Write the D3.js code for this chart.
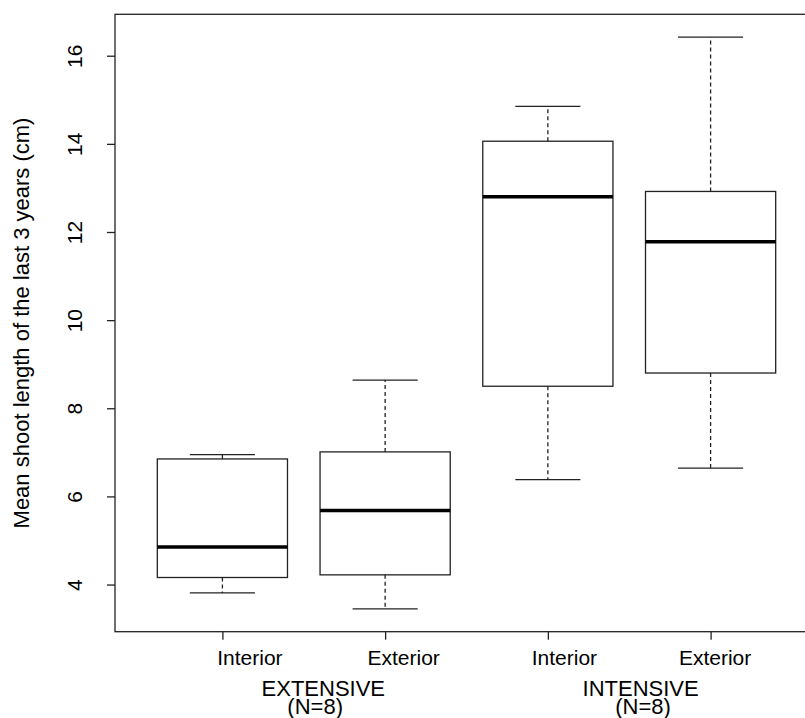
<!DOCTYPE html>
<html>
<head>
<meta charset="utf-8">
<script src="https://cdn.jsdelivr.net/npm/d3@7"></script>
<style>
  body { margin: 0; background: #fff; }
  text { font-family: "Liberation Sans", Arial, sans-serif; fill: #000; }
</style>
</head>
<body>
<div id="chart"></div>
<script>
// boxplot statistics
var groups = ['Interior', 'Exterior', 'Interior', 'Exterior'];
var lowWhisker = [3.81, 3.45, 6.38, 6.64];
var q1 = [4.16, 4.22, 8.50, 8.80];
var median = [4.85, 5.68, 12.80, 11.78];
var q3 = [6.85, 7.01, 14.06, 12.92];
var highWhisker = [6.95, 8.64, 14.85, 16.42];
var treatments = ['EXTENSIVE', 'INTENSIVE'];
var treatmentN = ['(N=8)', '(N=8)'];
var yTicks = [4, 6, 8, 10, 12, 14, 16];

var width = 805, height = 718;
var mLeft = 115, mTop = 14.3, mBottom = 631.7;
var mRight = 818; // R plot region runs past the image edge

var svg = d3.select('#chart').append('svg')
    .attr('width', width).attr('height', height);

var x = d3.scaleLinear().domain([0.34, 4.66]).range([mLeft, mRight]);
var y = d3.scaleLinear().domain([2.93, 16.94]).range([mBottom, mTop]);

var boxW = 0.8, capW = 0.4;
var ink = '#222';
var fs = '21px';

var data = groups.map(function(g, i) {
    return {pos: i + 1, lo: lowWhisker[i], q1: q1[i], med: median[i], q3: q3[i], hi: highWhisker[i]};
});

var box = svg.selectAll('g.box').data(data).enter().append('g').attr('class', 'box');

// whiskers
box.append('line')
    .attr('x1', function(d) { return x(d.pos); }).attr('x2', function(d) { return x(d.pos); })
    .attr('y1', function(d) { return y(d.q3); }).attr('y2', function(d) { return y(d.hi); })
    .attr('stroke', ink).attr('stroke-width', 1.3).attr('stroke-dasharray', '4,3');
box.append('line')
    .attr('x1', function(d) { return x(d.pos); }).attr('x2', function(d) { return x(d.pos); })
    .attr('y1', function(d) { return y(d.q1); }).attr('y2', function(d) { return y(d.lo); })
    .attr('stroke', ink).attr('stroke-width', 1.3).attr('stroke-dasharray', '4,3');

// caps
['hi', 'lo'].forEach(function(k) {
    box.append('line')
        .attr('x1', function(d) { return x(d.pos - capW / 2); })
        .attr('x2', function(d) { return x(d.pos + capW / 2); })
        .attr('y1', function(d) { return y(d[k]); }).attr('y2', function(d) { return y(d[k]); })
        .attr('stroke', ink).attr('stroke-width', 1.3);
});

// box
box.append('rect')
    .attr('x', function(d) { return x(d.pos - boxW / 2); })
    .attr('width', function(d) { return x(d.pos + boxW / 2) - x(d.pos - boxW / 2); })
    .attr('y', function(d) { return y(d.q3); })
    .attr('height', function(d) { return y(d.q1) - y(d.q3); })
    .attr('fill', 'none').attr('stroke', ink).attr('stroke-width', 1.3);

// median
box.append('line')
    .attr('x1', function(d) { return x(d.pos - boxW / 2); })
    .attr('x2', function(d) { return x(d.pos + boxW / 2); })
    .attr('y1', function(d) { return y(d.med); }).attr('y2', function(d) { return y(d.med); })
    .attr('stroke', '#000').attr('stroke-width', 3.5);

// frame
svg.append('rect')
    .attr('x', mLeft).attr('y', mTop)
    .attr('width', mRight - mLeft).attr('height', mBottom - mTop)
    .attr('fill', 'none').attr('stroke', ink).attr('stroke-width', 1.3);

// y axis
var yAxis = d3.axisLeft(y).tickValues(yTicks).tickSize(8).tickFormat(d3.format('d'));
var ya = svg.append('g').attr('transform', 'translate(' + mLeft + ',0)').call(yAxis);
ya.select('.domain').remove();
ya.selectAll('.tick line').attr('stroke', ink).attr('stroke-width', 1.3);
ya.selectAll('.tick text').remove();
ya.selectAll('.tick').append('text')
    .attr('transform', 'translate(-40,0) rotate(-90)')
    .attr('text-anchor', 'middle').attr('dy', '0.35em')
    .style('font-size', fs)
    .text(function(d) { return d; });

// x axis; the labels in the original sit to the right of their ticks
var labelShift = [27, 18, 16, 4];
var xAxis = d3.axisBottom(x).tickValues(data.map(function(d) { return d.pos; })).tickSize(8)
    .tickFormat(function(d) { return groups[d - 1]; });
var xa = svg.append('g').attr('transform', 'translate(0,' + mBottom + ')').call(xAxis);
xa.select('.domain').remove();
xa.selectAll('.tick line').attr('stroke', ink).attr('stroke-width', 1.3);
xa.selectAll('.tick text').attr('y', 0).attr('dy', 0)
    .attr('transform', function(d) { return 'translate(' + labelShift[d - 1] + ',33.6)'; })
    .style('font-size', fs).attr('font-family', null).attr('fill', '#000');

// treatment labels
var treatPos = [1.62, 3.57];
var treatPosN = [1.57, 3.585];
treatments.forEach(function(t, i) {
    svg.append('text').attr('x', x(treatPos[i])).attr('y', 696)
        .attr('text-anchor', 'middle').style('font-size', '22px').text(t);
    svg.append('text').attr('x', x(treatPosN[i])).attr('y', 714)
        .attr('text-anchor', 'middle').style('font-size', '22px').text(treatmentN[i]);
});

// y axis title
svg.append('text')
    .attr('transform', 'translate(28.5,' + ((mTop + mBottom) / 2) + ') rotate(-90)')
    .attr('text-anchor', 'middle')
    .style('font-size', '22px')
    .text('Mean shoot length of the last 3 years (cm)');
</script>
</body>
</html>
